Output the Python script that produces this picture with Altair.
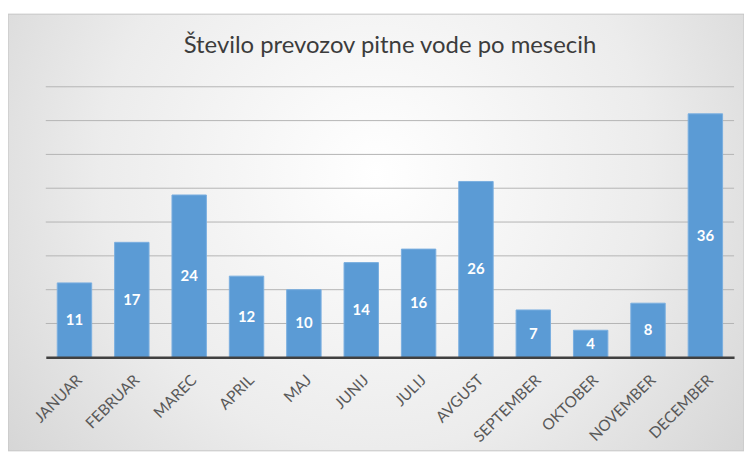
import altair as alt
import pandas as pd

months = ["JANUAR", "FEBRUAR", "MAREC", "APRIL", "MAJ", "JUNIJ", "JULIJ",
          "AVGUST", "SEPTEMBER", "OKTOBER", "NOVEMBER", "DECEMBER"]
values = [11, 17, 24, 12, 10, 14, 16, 26, 7, 4, 8, 36]
grid_values = [5, 10, 15, 20, 25, 30, 35, 40]
title_text = "Število prevozov pitne vode po mesecih"

df = pd.DataFrame({"month": months, "value": values})
gdf = pd.DataFrame({"g": grid_values})

W, H = 692, 272
ydom = [0, 40]

bg = alt.Chart(pd.DataFrame({"a": [0]})).mark_rect(
    color=alt.RadialGradient(
        gradient="radial", x1=0.5, y1=0.42, x2=0.5, y2=0.42, r1=0, r2=0.75,
        stops=[alt.GradientStop(offset=0, color="#ffffff"),
               alt.GradientStop(offset=0.5, color="#ececec"),
               alt.GradientStop(offset=1, color="#cbcbcb")]),
    stroke="#c4c4c4", strokeWidth=1,
).encode(x=alt.value(-38), x2=alt.value(702), y=alt.value(-73), y2=alt.value(366))

grid = alt.Chart(gdf).mark_rule(color="#b4b4b4", strokeWidth=1).encode(
    y=alt.Y("g:Q", scale=alt.Scale(domain=ydom), axis=None),
    x=alt.value(0), x2=alt.value(W),
)

xenc = alt.X("month:N", sort=months, title=None,
             scale=alt.Scale(paddingInner=0.4, paddingOuter=0.2),
             axis=alt.Axis(labelAngle=-45, labelFont="Lato", labelFontSize=15.5,
                           labelColor="#595959", ticks=False, domainColor="#404040",
                           domainWidth=2.5, labelPadding=15, zindex=1))

bars = alt.Chart(df).mark_bar(color="#5B9BD5", stroke="#7aaee0", strokeWidth=1).encode(
    x=xenc,
    y=alt.Y("value:Q", scale=alt.Scale(domain=ydom), axis=None),
)

text = alt.Chart(df).transform_calculate(mid="datum.value / 2").mark_text(
    color="white", font="Lato", fontWeight="bold", fontSize=15, baseline="middle"
).encode(
    x=alt.X("month:N", sort=months),
    y=alt.Y("mid:Q", scale=alt.Scale(domain=ydom), axis=None),
    text="value:Q",
)

chart = alt.layer(bg, grid, bars, text).properties(
    width=W, height=H,
    title=alt.TitleParams(title_text, font="Lato", fontSize=24, fontWeight="normal",
                          color="#3c3c3c", offset=-45, zindex=1, frame="group"),
    autosize=alt.AutoSizeParams(type="none"),
    padding={"left": 38, "top": 78, "right": 10, "bottom": 94},
    background="white",
).configure_view(stroke=None)

chart.save("out.html", embed_options={"renderer": "svg", "actions": False})
